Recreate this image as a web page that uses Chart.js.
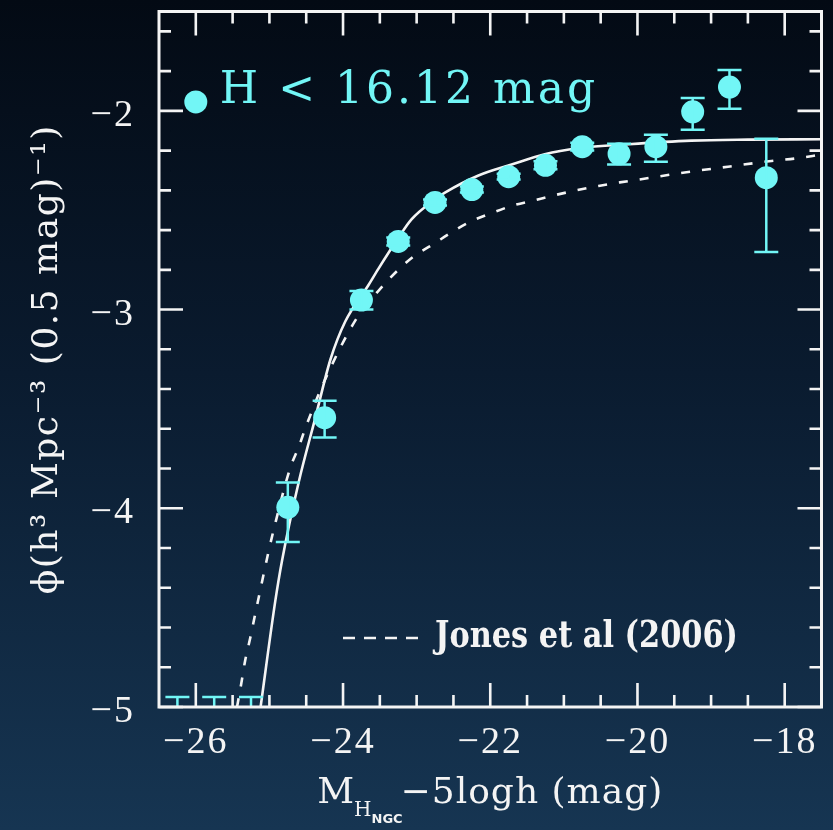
<!DOCTYPE html>
<html>
<head>
<meta charset="utf-8">
<title>H-band luminosity function</title>
<script src="https://cdn.jsdelivr.net/npm/chart.js@4.4.1/dist/chart.umd.min.js"></script>
<style>
    html, body { margin: 0; padding: 0; }
    body {
        width: 833px;
        height: 830px;
        overflow: hidden;
        background: linear-gradient(to bottom, #030a14 0%, #0a1b2f 45%, #163552 100%);
    }
    #lfChart { display: block; }
</style>
</head>
<body>
<canvas id="lfChart" width="833" height="830"></canvas>
<script>
// Binned luminosity function, H < 16.12 mag
const binMag = [-26.25, -25.75, -25.25, -24.75, -24.25, -23.75, -23.25, -22.75, -22.25,
                -21.75, -21.25, -20.75, -20.25, -19.75, -19.25, -18.75, -18.25];
const logPhi = [-5.40, -5.40, -5.40, -3.995, -3.544, -2.952, -2.657, -2.461, -2.396,
                -2.331, -2.274, -2.180, -2.216, -2.180, -2.005, -1.880, -2.336];
const errHigh = [-4.95, -4.95, -4.95, -3.870, -3.459, -2.907, -2.637, -2.446, -2.381,
                 -2.316, -2.254, -2.160, -2.165, -2.120, -1.935, -1.795, -2.140];
const errLow = [-6.00, -6.00, -6.00, -4.170, -3.644, -3.000, -2.677, -2.476, -2.411,
                -2.346, -2.294, -2.200, -2.270, -2.256, -2.095, -1.990, -2.710];

// Legend symbol for the data
const legendMag = [-26.0];
const legendPhi = [-1.955];

// Best fit (solid line)
const fitMag = [-25.12, -24.92, -24.83, -24.60, -24.38, -24.17, -23.97, -23.66, -23.52,
                -23.25, -23.07, -22.75, -22.61, -22.16, -21.71, -21.26, -20.80, -20.12,
                -19.27, -18.50, -17.50];
const fitPhi = [-5.00, -4.466, -4.266, -3.865, -3.550, -3.250, -3.060, -2.880, -2.795,
                -2.640, -2.546, -2.445, -2.410, -2.325, -2.270, -2.218, -2.188, -2.168,
                -2.150, -2.145, -2.143];

// Jones et al (2006) (dashed line)
const jonesMag = [-25.44, -25.38, -25.33, -25.26, -25.20, -25.01, -24.94, -24.72, -24.60,
                  -24.51, -24.40, -24.29, -23.83, -23.45, -23.25, -23.02, -22.77, -22.53,
                  -22.26, -21.98, -21.69, -21.41, -21.12, -20.83, -20.53, -20.24, -19.95,
                  -19.36, -18.77, -18.18, -17.86, -17.50];
const jonesPhi = [-5.00, -4.877, -4.767, -4.652, -4.545, -4.215, -4.105, -3.800, -3.690,
                  -3.595, -3.490, -3.390, -3.053, -2.877, -2.800, -2.727, -2.670, -2.612,
                  -2.556, -2.514, -2.476, -2.451, -2.424, -2.400, -2.378, -2.360, -2.344,
                  -2.310, -2.281, -2.252, -2.240, -2.220];

// Axis ticks
const xMajorTicks = [-26, -24, -22, -20, -18];
const xMinorTicks = [-26, -25.5, -25, -24.5, -24, -23.5, -23, -22.5, -22, -21.5, -21,
                     -20.5, -20, -19.5, -19, -18.5, -18];
const yMajorTicks = [-5, -4, -3, -2];
const yMinorTicks = [-5, -4.8, -4.6, -4.4, -4.2, -4, -3.8, -3.6, -3.4, -3.2, -3, -2.8,
                     -2.6, -2.4, -2.2, -2, -1.8, -1.6];

const CYAN = '#72f6f6';
const WHITE = '#f4f4f4';

const toXY = (xs, ys) => xs.map((x, i) => ({ x: x, y: ys[i] }));

function fmtTick(v) {
    return (v < 0 ? '\u2212' : '') + Math.abs(v);
}

function setSpacing(ctx, px) {
    if ('letterSpacing' in ctx) ctx.letterSpacing = px + 'px';
}

// Frame, inward ticks, tick labels, titles and annotations
const framePlugin = {
    id: 'frame',
    afterDatasetsDraw(chart) {
        const { ctx, chartArea: a, scales } = chart;
        const xs = scales.x, ys = scales.y;

        // error bars
        ctx.save();
        ctx.beginPath();
        ctx.rect(a.left, a.top, a.right - a.left, a.bottom - a.top);
        ctx.clip();
        ctx.strokeStyle = CYAN;
        ctx.lineWidth = 2.5;
        binMag.forEach((m, i) => {
            const px = xs.getPixelForValue(m);
            const hi = ys.getPixelForValue(errHigh[i]);
            const lo = ys.getPixelForValue(errLow[i]);
            ctx.beginPath();
            ctx.moveTo(px, hi); ctx.lineTo(px, lo);
            ctx.moveTo(px - 12, hi); ctx.lineTo(px + 12, hi);
            ctx.moveTo(px - 12, lo); ctx.lineTo(px + 12, lo);
            ctx.stroke();
        });
        ctx.restore();

        ctx.save();
        ctx.strokeStyle = WHITE;
        ctx.lineWidth = 3;
        ctx.strokeRect(a.left, a.top, a.right - a.left, a.bottom - a.top);

        ctx.lineWidth = 2.6;
        ctx.beginPath();
        xMinorTicks.forEach(v => {
            const len = xMajorTicks.includes(v) ? 24 : 12;
            const px = xs.getPixelForValue(v);
            ctx.moveTo(px, a.bottom); ctx.lineTo(px, a.bottom - len);
            ctx.moveTo(px, a.top); ctx.lineTo(px, a.top + len);
        });
        yMinorTicks.forEach(v => {
            const len = yMajorTicks.includes(v) ? 24 : 12;
            const py = ys.getPixelForValue(v);
            ctx.moveTo(a.left, py); ctx.lineTo(a.left + len, py);
            ctx.moveTo(a.right, py); ctx.lineTo(a.right - len, py);
        });
        ctx.stroke();

        // tick labels
        ctx.fillStyle = WHITE;
        ctx.font = '38px "Liberation Serif"';
        setSpacing(ctx, 2);
        ctx.textBaseline = 'alphabetic';
        ctx.textAlign = 'center';
        xMajorTicks.forEach(v => {
            ctx.fillText(fmtTick(v), xs.getPixelForValue(v), a.bottom + 46);
        });
        ctx.textAlign = 'right';
        yMajorTicks.forEach(v => {
            ctx.fillText(fmtTick(v), a.left - 24, ys.getPixelForValue(v) + 15);
        });

        // x title: M_{H_{NGC}} -5logh (mag)
        ctx.textAlign = 'left';
        const partM = 'M', partRest = '\u22125logh (mag)';
        ctx.font = '36px "DejaVu Serif"';
        setSpacing(ctx, 0);
        const wM = ctx.measureText(partM).width;
        setSpacing(ctx, 1);
        const wRest = ctx.measureText(partRest).width;
        ctx.font = '20px "DejaVu Serif"';
        setSpacing(ctx, 0);
        const wH = ctx.measureText('H').width;
        ctx.font = 'bold 13px "DejaVu Sans"';
        const wN = ctx.measureText('NGC').width;
        const total = wM + wH + wN - 2 + wRest;
        let tx = (a.left + a.right) / 2 - total / 2;
        const base = a.bottom + 96;
        ctx.font = '36px "DejaVu Serif"';
        ctx.fillText(partM, tx, base);
        tx += wM;
        ctx.font = '20px "DejaVu Serif"';
        ctx.fillText('H', tx, base + 13);
        tx += wH;
        ctx.font = 'bold 13px "DejaVu Sans"';
        ctx.fillText('NGC', tx, base + 20);
        tx += wN - 2;
        ctx.font = '36px "DejaVu Serif"';
        setSpacing(ctx, 1);
        ctx.fillText(partRest, tx, base);

        // y title
        ctx.save();
        ctx.translate(57, (a.top + a.bottom) / 2);
        ctx.rotate(-Math.PI / 2);
        ctx.textAlign = 'center';
        ctx.font = '36px "DejaVu Serif"';
        setSpacing(ctx, 1.5);
        ctx.fillText('\u03D5(h\u00B3 Mpc\u207B\u00B3 (0.5 mag)\u207B\u00B9)', 0, 0);
        ctx.restore();

        // data legend next to its symbol
        const lx = xs.getPixelForValue(legendMag[0]);
        const ly = ys.getPixelForValue(legendPhi[0]);
        ctx.fillStyle = CYAN;
        ctx.textAlign = 'left';
        ctx.font = '44px "DejaVu Serif"';
        setSpacing(ctx, 3);
        ctx.fillText('H < 16.12 mag', lx + 24, ly + 1);

        // Jones et al legend
        ctx.strokeStyle = WHITE;
        ctx.lineWidth = 2.5;
        ctx.setLineDash([12, 9]);
        ctx.beginPath();
        ctx.moveTo(a.left + 184, a.bottom - 69);
        ctx.lineTo(a.left + 259, a.bottom - 69);
        ctx.stroke();
        ctx.setLineDash([]);
        ctx.fillStyle = WHITE;
        ctx.font = 'bold 37px "DejaVu Serif"';
        setSpacing(ctx, 0);
        const label = 'Jones et al (2006)';
        const sx = 303 / ctx.measureText(label).width;
        ctx.save();
        ctx.translate(a.left + 276, a.bottom - 60);
        ctx.scale(sx, 1);
        ctx.fillText(label, 0, 0);
        ctx.restore();
        ctx.restore();
    }
};

const ctx = document.getElementById('lfChart').getContext('2d');
new Chart(ctx, {
    type: 'scatter',
    data: {
        datasets: [
            {
                label: 'H < 16.12 mag',
                data: toXY(binMag, logPhi),
                pointRadius: 11.5,
                pointBackgroundColor: CYAN,
                pointBorderWidth: 0,
                clip: 0,
                order: 0
            },
            {
                label: 'legend symbol',
                data: toXY(legendMag, legendPhi),
                pointRadius: 11.5,
                pointBackgroundColor: CYAN,
                pointBorderWidth: 0,
                clip: 0,
                order: 0
            },
            {
                label: 'fit',
                type: 'line',
                data: toXY(fitMag, fitPhi),
                borderColor: WHITE,
                borderWidth: 2.6,
                pointRadius: 0,
                cubicInterpolationMode: 'monotone',
                clip: 0,
                order: 2
            },
            {
                label: 'Jones et al (2006)',
                type: 'line',
                data: toXY(jonesMag, jonesPhi),
                borderColor: WHITE,
                borderWidth: 2.6,
                borderDash: [9, 12],
                pointRadius: 0,
                cubicInterpolationMode: 'monotone',
                clip: 0,
                order: 3
            }
        ]
    },
    options: {
        responsive: false,
        animation: false,
        events: [],
        layout: { padding: { left: 159, right: 8, top: 10, bottom: 123 } },
        scales: {
            x: { type: 'linear', min: -26.5, max: -17.5, display: false },
            y: { type: 'linear', min: -5, max: -1.5, display: false }
        },
        plugins: {
            legend: { display: false },
            tooltip: { enabled: false }
        }
    },
    plugins: [framePlugin]
});
</script>
</body>
</html>
